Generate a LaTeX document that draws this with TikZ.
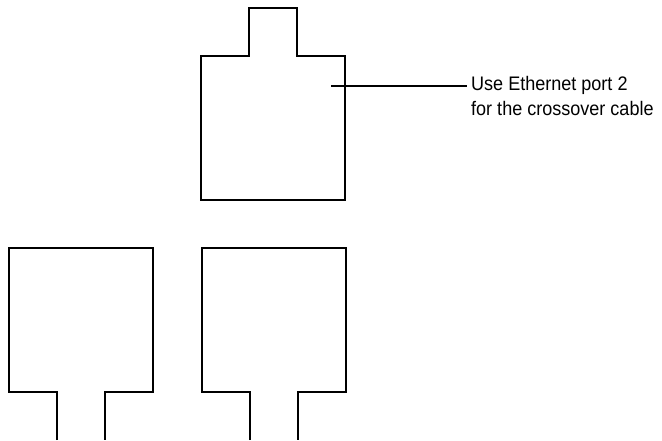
\documentclass[tikz,border=0pt]{standalone}
\usepackage{fontspec}
\newfontfamily\notefont[FakeStretch=0.92]{Liberation Sans}
\usetikzlibrary{positioning}

\begin{document}
\begin{tikzpicture}[x=1pt, y=1pt,
outline/.style={draw=black, line width=2pt},
port/.pic={\draw[outline] (48,192) -- (48,144) -- (0,144) -- (0,0) -- (144,0) -- (144,144) -- (96,144) -- (96,192) #1;},
notetext/.style={inner sep=0pt, align=left, font=\notefont\fontsize{19.6}{25.7}\selectfont},
]
\useasboundingbox (0,0) rectangle (662,440);
%Ports
\pic (upper)       at (201,239.5)           {port={-- cycle}};
\pic (lowerleft)   [yscale=-1] at (9,192)   {port={}};
\pic (lowerright)  [yscale=-1] at (201.5,192) {port={}};

%Nodes
\coordinate (tap) at (331,354.3);
\node[notetext]    (note)    [anchor=north west] at (471,364.2) {Use Ethernet port 2\\for the crossover cable};

%Lines
\draw[outline, line width=1.8pt, shorten >=3.7pt] (tap) -- (tap -| note.west);
\end{tikzpicture}
\end{document}
